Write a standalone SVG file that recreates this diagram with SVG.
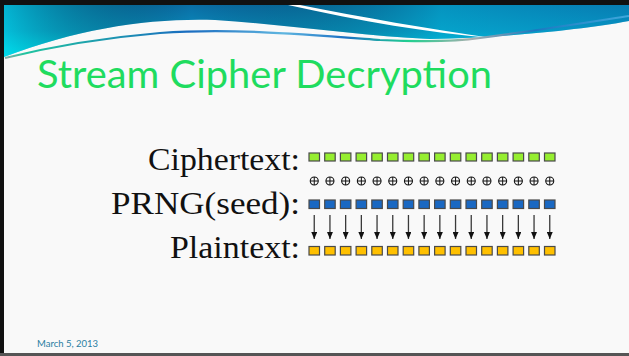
<svg xmlns="http://www.w3.org/2000/svg" width="629" height="356" viewBox="0 0 629 356">
<style>
.lbl{font-family:"Liberation Serif","DejaVu Serif",serif;font-size:31px;fill:#111;}
.title{font-family:Lato,"Open Sans","Liberation Sans",sans-serif;font-size:38px;fill:#1fdc5f;}
.date{font-family:Lato,"Open Sans","Liberation Sans",sans-serif;font-size:9.5px;fill:#2a7ea2;}
.bx{stroke:#4a4a4a;stroke-width:1.2;}
.g{fill:#96ee30;}
.b{fill:#1a68c2;}
.o{fill:#ffc000;}
.ox circle{fill:none;stroke:#111;stroke-width:1.1;}
.ox line{stroke:#111;stroke-width:1;}
.arr{stroke:#3a3a3a;stroke-width:1.3;marker-end:url(#ah);}
</style>
<defs>
<linearGradient id="hdr" x1="0" y1="0" x2="0" y2="1">
<stop offset="0" stop-color="#0a6ea6"/>
<stop offset="0.5" stop-color="#0a8cbc"/>
<stop offset="1" stop-color="#00dcec"/>
</linearGradient>
<linearGradient id="hdr2" x1="0" y1="0" x2="1" y2="0">
<stop offset="0" stop-color="#00e0ee" stop-opacity="0.6"/>
<stop offset="0.3" stop-color="#000" stop-opacity="0"/>
<stop offset="0.7" stop-color="#00b8d8" stop-opacity="0.5"/>
<stop offset="1" stop-color="#00a0d0" stop-opacity="0.3"/>
</linearGradient>
<linearGradient id="ln" x1="0" y1="0" x2="629" y2="0" gradientUnits="userSpaceOnUse">
<stop offset="0" stop-color="#a0a8a8"/>
<stop offset="0.04" stop-color="#20c4a0"/>
<stop offset="0.3" stop-color="#1a6cc0"/>
<stop offset="0.45" stop-color="#60b6e0"/>
<stop offset="0.55" stop-color="#1a70c4"/>
<stop offset="0.65" stop-color="#22d090"/>
<stop offset="0.75" stop-color="#a8aeae"/>
<stop offset="0.85" stop-color="#1a78c0"/>
<stop offset="1" stop-color="#40a8dc"/>
</linearGradient>
<marker id="ah" viewBox="0 0 7 6" refX="7" refY="3" markerWidth="7" markerHeight="6" markerUnits="userSpaceOnUse" orient="auto">
<path d="M0,0 L7,3 L0,6 Z" fill="#111"/>
</marker>
</defs>
<rect x="0" y="0" width="629" height="356" fill="#f9f9f9"/>
<g id="header">
<path d="M4,5 H629 V21 C580,30 500,38 430,39 C360,36 290,25 215,20 C150,18 80,28 4,57 Z" fill="url(#hdr)"/>
<path d="M4,5 H629 V21 C580,30 500,38 430,39 C360,36 290,25 215,20 C150,18 80,28 4,57 Z" fill="url(#hdr2)"/>
<path d="M288,5 L300,5 C360,17 430,29 492,38 C430,33 360,21 288,5 Z" fill="#ffffff"/>
<path d="M5,58 C50,47 100,38 160,33 C230,28 300,34 380,40 C420,42 460,41 480,38 C540,30 590,22 629,16" fill="none" stroke="url(#ln)" stroke-width="2.2"/>
</g>
<rect x="0" y="0" width="629" height="5" fill="#111"/>
<rect x="0" y="0" width="4" height="356" fill="#111"/>
<rect x="0" y="353" width="629" height="3" fill="#555"/>
<g id="title"><text class="title" x="37" y="88" textLength="455" lengthAdjust="spacingAndGlyphs">Stream Cipher Decryption</text></g>
<g id="labels">
<text class="lbl" x="300" y="170" text-anchor="end" textLength="152" lengthAdjust="spacingAndGlyphs">Ciphertext:</text>
<text class="lbl" x="300" y="214" text-anchor="end" textLength="189" lengthAdjust="spacingAndGlyphs">PRNG(seed):</text>
<text class="lbl" x="300" y="258" text-anchor="end" textLength="130" lengthAdjust="spacingAndGlyphs">Plaintext:</text>
</g>
<g id="ciphertext">
<rect class="bx g" x="309" y="153" width="10.5" height="8"/><rect class="bx g" x="324.7" y="153" width="10.5" height="8"/><rect class="bx g" x="340.4" y="153" width="10.5" height="8"/><rect class="bx g" x="356.1" y="153" width="10.5" height="8"/><rect class="bx g" x="371.8" y="153" width="10.5" height="8"/><rect class="bx g" x="387.5" y="153" width="10.5" height="8"/><rect class="bx g" x="403.2" y="153" width="10.5" height="8"/><rect class="bx g" x="418.9" y="153" width="10.5" height="8"/><rect class="bx g" x="434.6" y="153" width="10.5" height="8"/><rect class="bx g" x="450.3" y="153" width="10.5" height="8"/><rect class="bx g" x="466" y="153" width="10.5" height="8"/><rect class="bx g" x="481.7" y="153" width="10.5" height="8"/><rect class="bx g" x="497.4" y="153" width="10.5" height="8"/><rect class="bx g" x="513.1" y="153" width="10.5" height="8"/><rect class="bx g" x="528.8" y="153" width="10.5" height="8"/><rect class="bx g" x="544.5" y="153" width="10.5" height="8"/>
</g>
<g id="xor" class="ox">
<g transform="translate(314.25 181)"><circle r="4"/><line x1="-4" y1="0" x2="4" y2="0"/><line x1="0" y1="-4" x2="0" y2="4"/></g>
<g transform="translate(329.95 181)"><circle r="4"/><line x1="-4" y1="0" x2="4" y2="0"/><line x1="0" y1="-4" x2="0" y2="4"/></g>
<g transform="translate(345.65 181)"><circle r="4"/><line x1="-4" y1="0" x2="4" y2="0"/><line x1="0" y1="-4" x2="0" y2="4"/></g>
<g transform="translate(361.35 181)"><circle r="4"/><line x1="-4" y1="0" x2="4" y2="0"/><line x1="0" y1="-4" x2="0" y2="4"/></g>
<g transform="translate(377.05 181)"><circle r="4"/><line x1="-4" y1="0" x2="4" y2="0"/><line x1="0" y1="-4" x2="0" y2="4"/></g>
<g transform="translate(392.75 181)"><circle r="4"/><line x1="-4" y1="0" x2="4" y2="0"/><line x1="0" y1="-4" x2="0" y2="4"/></g>
<g transform="translate(408.45 181)"><circle r="4"/><line x1="-4" y1="0" x2="4" y2="0"/><line x1="0" y1="-4" x2="0" y2="4"/></g>
<g transform="translate(424.15 181)"><circle r="4"/><line x1="-4" y1="0" x2="4" y2="0"/><line x1="0" y1="-4" x2="0" y2="4"/></g>
<g transform="translate(439.85 181)"><circle r="4"/><line x1="-4" y1="0" x2="4" y2="0"/><line x1="0" y1="-4" x2="0" y2="4"/></g>
<g transform="translate(455.55 181)"><circle r="4"/><line x1="-4" y1="0" x2="4" y2="0"/><line x1="0" y1="-4" x2="0" y2="4"/></g>
<g transform="translate(471.25 181)"><circle r="4"/><line x1="-4" y1="0" x2="4" y2="0"/><line x1="0" y1="-4" x2="0" y2="4"/></g>
<g transform="translate(486.95 181)"><circle r="4"/><line x1="-4" y1="0" x2="4" y2="0"/><line x1="0" y1="-4" x2="0" y2="4"/></g>
<g transform="translate(502.65 181)"><circle r="4"/><line x1="-4" y1="0" x2="4" y2="0"/><line x1="0" y1="-4" x2="0" y2="4"/></g>
<g transform="translate(518.35 181)"><circle r="4"/><line x1="-4" y1="0" x2="4" y2="0"/><line x1="0" y1="-4" x2="0" y2="4"/></g>
<g transform="translate(534.05 181)"><circle r="4"/><line x1="-4" y1="0" x2="4" y2="0"/><line x1="0" y1="-4" x2="0" y2="4"/></g>
<g transform="translate(549.75 181)"><circle r="4"/><line x1="-4" y1="0" x2="4" y2="0"/><line x1="0" y1="-4" x2="0" y2="4"/></g>
</g>
<g id="prng">
<rect class="bx b" x="309" y="200" width="10.5" height="8.5"/><rect class="bx b" x="324.7" y="200" width="10.5" height="8.5"/><rect class="bx b" x="340.4" y="200" width="10.5" height="8.5"/><rect class="bx b" x="356.1" y="200" width="10.5" height="8.5"/><rect class="bx b" x="371.8" y="200" width="10.5" height="8.5"/><rect class="bx b" x="387.5" y="200" width="10.5" height="8.5"/><rect class="bx b" x="403.2" y="200" width="10.5" height="8.5"/><rect class="bx b" x="418.9" y="200" width="10.5" height="8.5"/><rect class="bx b" x="434.6" y="200" width="10.5" height="8.5"/><rect class="bx b" x="450.3" y="200" width="10.5" height="8.5"/><rect class="bx b" x="466" y="200" width="10.5" height="8.5"/><rect class="bx b" x="481.7" y="200" width="10.5" height="8.5"/><rect class="bx b" x="497.4" y="200" width="10.5" height="8.5"/><rect class="bx b" x="513.1" y="200" width="10.5" height="8.5"/><rect class="bx b" x="528.8" y="200" width="10.5" height="8.5"/><rect class="bx b" x="544.5" y="200" width="10.5" height="8.5"/>
</g>
<g id="connectors">
<line class="arr" x1="314.25" y1="215" x2="314.25" y2="239"/><line class="arr" x1="329.95" y1="215" x2="329.95" y2="239"/><line class="arr" x1="345.65" y1="215" x2="345.65" y2="239"/><line class="arr" x1="361.35" y1="215" x2="361.35" y2="239"/><line class="arr" x1="377.05" y1="215" x2="377.05" y2="239"/><line class="arr" x1="392.75" y1="215" x2="392.75" y2="239"/><line class="arr" x1="408.45" y1="215" x2="408.45" y2="239"/><line class="arr" x1="424.15" y1="215" x2="424.15" y2="239"/><line class="arr" x1="439.85" y1="215" x2="439.85" y2="239"/><line class="arr" x1="455.55" y1="215" x2="455.55" y2="239"/><line class="arr" x1="471.25" y1="215" x2="471.25" y2="239"/><line class="arr" x1="486.95" y1="215" x2="486.95" y2="239"/><line class="arr" x1="502.65" y1="215" x2="502.65" y2="239"/><line class="arr" x1="518.35" y1="215" x2="518.35" y2="239"/><line class="arr" x1="534.05" y1="215" x2="534.05" y2="239"/><line class="arr" x1="549.75" y1="215" x2="549.75" y2="239"/>
</g>
<g id="plaintext">
<rect class="bx o" x="309" y="246.5" width="10.5" height="8.5"/><rect class="bx o" x="324.7" y="246.5" width="10.5" height="8.5"/><rect class="bx o" x="340.4" y="246.5" width="10.5" height="8.5"/><rect class="bx o" x="356.1" y="246.5" width="10.5" height="8.5"/><rect class="bx o" x="371.8" y="246.5" width="10.5" height="8.5"/><rect class="bx o" x="387.5" y="246.5" width="10.5" height="8.5"/><rect class="bx o" x="403.2" y="246.5" width="10.5" height="8.5"/><rect class="bx o" x="418.9" y="246.5" width="10.5" height="8.5"/><rect class="bx o" x="434.6" y="246.5" width="10.5" height="8.5"/><rect class="bx o" x="450.3" y="246.5" width="10.5" height="8.5"/><rect class="bx o" x="466" y="246.5" width="10.5" height="8.5"/><rect class="bx o" x="481.7" y="246.5" width="10.5" height="8.5"/><rect class="bx o" x="497.4" y="246.5" width="10.5" height="8.5"/><rect class="bx o" x="513.1" y="246.5" width="10.5" height="8.5"/><rect class="bx o" x="528.8" y="246.5" width="10.5" height="8.5"/><rect class="bx o" x="544.5" y="246.5" width="10.5" height="8.5"/>
</g>
<g id="footer"><text class="date" x="37" y="347">March 5, 2013</text></g>
</svg>
